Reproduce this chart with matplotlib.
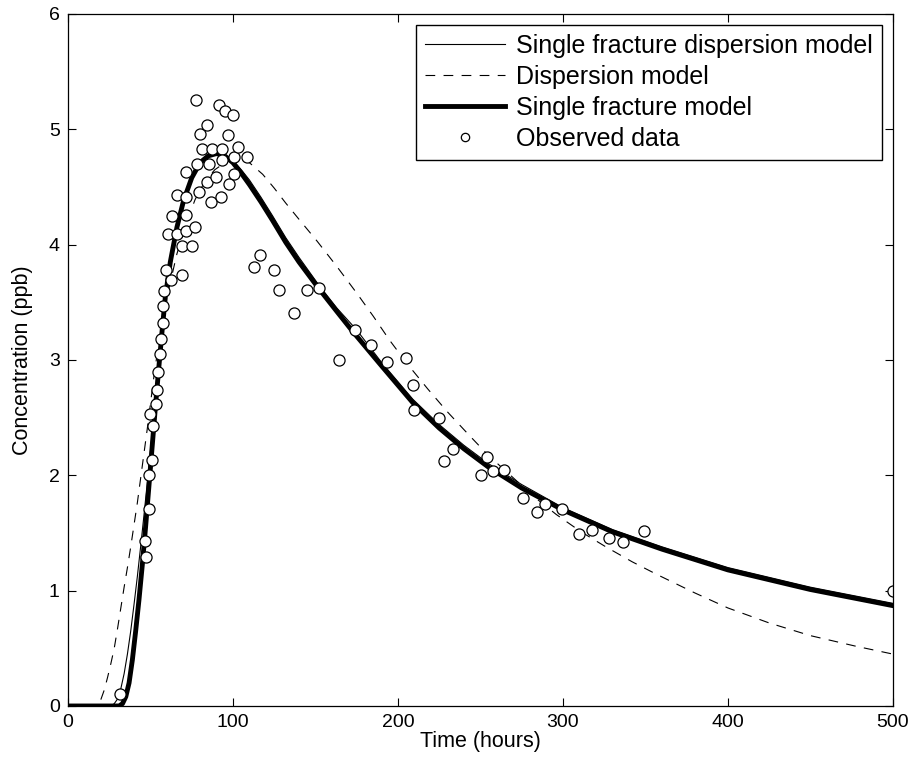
#!/usr/bin/env python

import matplotlib
matplotlib.use("Agg")
import matplotlib.pyplot as plt

# observed breakthrough data (hours, ppb)
obs_t = [31.2, 46.4, 47.2, 48.8, 49.0, 51.2, 49.5, 51.3, 53.2, 53.8, 54.3, 55.8,
         56.2, 57.8, 57.4, 58.2, 62.4, 59.4, 69.2, 60.4, 65.8, 62.8, 71.5, 71.5,
         69.0, 75.0, 77.0, 65.8, 71.6, 71.8, 79.4, 78.0, 85.6, 84.0, 89.7, 86.6,
         92.5, 81.4, 87.4, 93.4, 93.5, 97.8, 100.6, 100.6, 108.3, 103.2, 80.0,
         97.2, 84.0, 77.8, 91.5, 95.2, 99.8,
         112.6, 116.4, 125.0, 128.0, 137.2, 145.0, 152.0, 164.5, 174.2, 183.5,
         193.2, 204.9, 209.4, 209.8, 224.8, 227.7, 233.2, 250.3, 254.2, 257.8,
         264.3, 276.0, 284.1, 289.3, 299.6, 309.5, 317.6, 327.9, 336.6, 349.0,
         500.0]
obs_c = [0.10, 1.43, 1.29, 1.71, 2.00, 2.13, 2.53, 2.43, 2.62, 2.74, 2.90, 3.05,
         3.18, 3.32, 3.47, 3.60, 3.69, 3.78, 3.74, 4.09, 4.09, 4.25, 4.12, 4.26,
         3.99, 3.99, 4.15, 4.43, 4.41, 4.63, 4.46, 4.70, 4.70, 4.54, 4.59, 4.37,
         4.41, 4.83, 4.83, 4.83, 4.73, 4.53, 4.61, 4.76, 4.76, 4.85, 4.96,
         4.95, 5.04, 5.25, 5.21, 5.16, 5.12,
         3.81, 3.91, 3.78, 3.61, 3.41, 3.61, 3.62, 3.00, 3.26, 3.13,
         2.98, 3.02, 2.78, 2.57, 2.50, 2.12, 2.23, 2.00, 2.16, 2.04,
         2.05, 1.80, 1.68, 1.75, 1.71, 1.49, 1.53, 1.46, 1.42, 1.52,
         1.00]

# single fracture dispersion model
sfd_t = [0, 26, 28, 30, 32, 34, 36, 38, 40, 42, 44, 46, 48, 50, 52, 54, 56, 58,
         61, 65, 70, 75, 80, 85, 90, 95, 100, 105, 110, 117, 124, 132, 140, 152,
         163, 175, 190, 209, 225, 240, 255, 275, 300, 330, 360, 400, 450, 500]
sfd_c = [0, 0, 0.02, 0.06, 0.15, 0.28, 0.45, 0.65, 0.88, 1.12, 1.38, 1.65, 1.93,
         2.22, 2.50, 2.80, 3.08, 3.36, 3.70, 4.05, 4.36, 4.56, 4.70, 4.77, 4.79,
         4.78, 4.73, 4.65, 4.56, 4.41, 4.25, 4.06, 3.89, 3.65, 3.45, 3.26, 2.98,
         2.66, 2.44, 2.26, 2.10, 1.92, 1.72, 1.53, 1.38, 1.20, 1.03, 0.89]

# dispersion model
disp_t = [0, 17, 18, 20, 22, 24, 26, 28, 30, 32, 34, 36, 38, 40, 42, 45, 48, 52,
          56, 60, 66, 72, 77, 83, 89, 95, 100, 105, 110, 118, 125, 132, 140, 151,
          163, 175, 185, 195, 206, 218, 230, 243, 255, 269, 282, 296, 311, 326,
          342, 357, 380, 400, 425, 450, 477, 500]
disp_c = [0, 0, 0.01, 0.06, 0.14, 0.25, 0.37, 0.50, 0.67, 0.85, 1.03, 1.20, 1.38,
          1.57, 1.76, 2.08, 2.40, 2.85, 3.25, 3.55, 3.92, 4.20, 4.39, 4.55, 4.65,
          4.71, 4.74, 4.74, 4.71, 4.61, 4.49, 4.36, 4.22, 4.03, 3.81, 3.58, 3.38,
          3.17, 2.96, 2.75, 2.55, 2.35, 2.17, 1.99, 1.82, 1.66, 1.51, 1.38, 1.25,
          1.14, 0.98, 0.85, 0.72, 0.61, 0.52, 0.45]

# single fracture model
sf_t = [0, 31, 33, 35, 37, 39, 41, 43, 45, 47, 49, 51, 53, 55, 57, 59, 62, 66,
        70, 75, 80, 85, 90, 95, 100, 105, 110, 117, 124, 132, 140, 152, 163, 173,
        190, 209, 225, 240, 255, 275, 300, 330, 360, 400, 450, 500]
sf_c = [0, 0, 0.02, 0.08, 0.20, 0.40, 0.65, 0.92, 1.22, 1.55, 1.90, 2.25, 2.60,
        2.93, 3.25, 3.55, 3.85, 4.15, 4.38, 4.58, 4.71, 4.77, 4.79, 4.77, 4.71,
        4.62, 4.52, 4.37, 4.21, 4.02, 3.85, 3.62, 3.42, 3.24, 2.95, 2.63, 2.41,
        2.23, 2.07, 1.89, 1.70, 1.51, 1.36, 1.18, 1.01, 0.87]

plt.rcParams['font.family'] = ['Liberation Sans', 'DejaVu Sans']
plt.rcParams['lines.scale_dashes'] = False

fig = plt.figure(figsize=(9.12, 7.73), dpi=100)
ax = fig.add_axes([0.0746, 0.0867, 0.9044, 0.8952])

ax.plot(sfd_t, sfd_c, color="k", lw=0.8, label="Single fracture dispersion model")
ax.plot(disp_t, disp_c, color="k", lw=0.8, dashes=(7, 6), label="Dispersion model")
ax.plot(sf_t, sf_c, color="k", lw=3.5, label="Single fracture model")
ax.plot(obs_t, obs_c, "o", color="k", mfc="w", mec="k", ms=8, mew=0.9,
        label="Observed data")

ax.set_xlim(0, 500)
ax.set_ylim(0, 6)
ax.set_xticks([0, 100, 200, 300, 400, 500])
ax.set_yticks([0, 1, 2, 3, 4, 5, 6])
ax.tick_params(direction="in", top=True, right=True, length=6, width=0.8,
               labelsize=14, pad=6)
for s in ax.spines.values():
    s.set_linewidth(0.9)

ax.set_xlabel("Time (hours)", fontsize=15.5, labelpad=0)
ax.set_ylabel("Concentration (ppb)", fontsize=15.5, labelpad=11)

leg = ax.legend(loc="upper right", fontsize=18, markerscale=0.75, fancybox=False,
                framealpha=1, edgecolor="k", handlelength=3.2, borderpad=0.35,
                labelspacing=0.28, handletextpad=0.45, borderaxespad=0.45)
leg.get_frame().set_linewidth(1.0)

fig.savefig("out.png", dpi=100)
